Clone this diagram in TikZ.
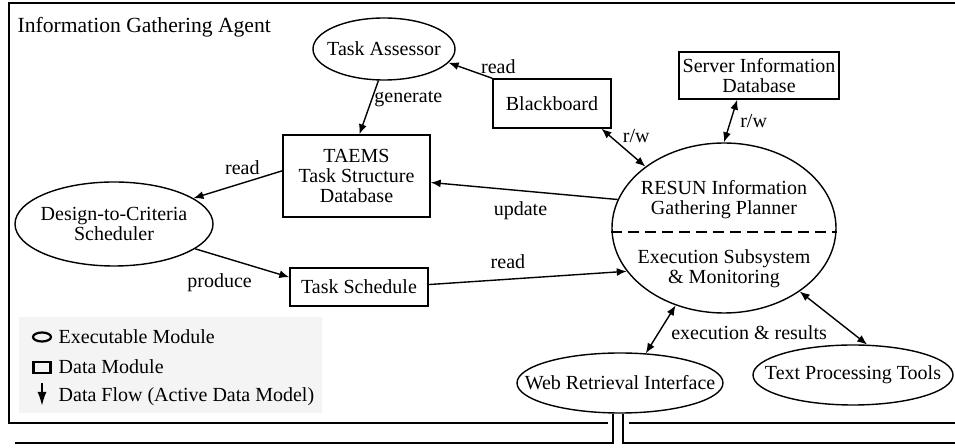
\documentclass[tikz,border=0pt]{standalone}
\usepackage{fontspec}
\setmainfont{Liberation Serif}
\usetikzlibrary{arrows.meta,shapes.geometric,positioning}
\definecolor{legendgray}{RGB}{244,244,244}

\begin{document}
\begin{tikzpicture}[x=0.5pt,y=-0.5pt,>={Latex[length=5pt,width=4pt]},
    line width=0.7pt,font=\fontsize{10pt}{10pt}\selectfont,
    execmod/.style={ellipse,draw,inner sep=-20pt,align=center},
    datamod/.style={rectangle,draw,inner sep=0pt,align=center},
    lbl/.style={inner sep=1pt}]
  \useasboundingbox (0,0) rectangle (955,448);
  % agent frame, open at the bottom for the web link
  \draw[line width=0.8pt] (608,423) -- (9,423) -- (9,3) -- (965,3) -- (965,423) -- (629,423);
  \node[anchor=base west,inner sep=0pt,font=\fontsize{10.8pt}{12pt}\selectfont] (title) at (17,32.5) {Information Gathering Agent};

  \node[execmod,minimum width=71pt,minimum height=31pt] (ass) at (384,49) {Task Assessor};
  \node[datamod,minimum width=73.5pt,minimum height=41pt] (taems) at (356.5,176) {TAEMS\\Task Structure\\Database};
  \node[execmod,minimum width=99pt,minimum height=42pt] (dtc) at (114,224) {Design-to-Criteria\\Scheduler};
  \node[datamod,minimum width=69pt,minimum height=19pt] (sched) at (359,287) {Task Schedule};
  \node[datamod,minimum width=59pt,minimum height=24.5pt] (bb) at (552,103.5) {Blackboard};
  \node[datamod,minimum width=80pt,minimum height=23.5pt] (sidb) at (759,75.5) {Server Information\\Database};
  \node[execmod,minimum width=112pt,minimum height=85pt] (resun) at (724,228) {};
  \node[align=center] (plan) at (724,200) {RESUN Information\\Gathering Planner};
  \node[align=center] (exsub) at (724,269) {Execution Subsystem\\\& Monitoring};
  \draw[dash pattern=on 5.5pt off 3pt] (resun.182.5) -- (resun.-2.5);
  \node[execmod,minimum width=103pt,minimum height=30pt] (web) at (620,383) {Web Retrieval Interface};
  \node[execmod,minimum width=100pt,minimum height=30pt] (tpt) at (853,375) {Text Processing Tools};

  \path[->] (bb.north west) edge node[lbl,pos=0,above=1pt,xshift=3pt] {read} (ass.-12)
	  (ass.-100) edge node[lbl,pos=0.35,right] {generate} (taems.86)
	  (taems.176) edge node[lbl,pos=0.45,above=3pt] {read} (dtc.18)
	  (resun.165) edge node[lbl,pos=0.52,below=4pt] {update} (taems.-5)
	  (dtc.-17) edge node[lbl,pos=0.26,below=7.5pt] {produce} (sched.172)
	  (sched.2) edge node[lbl,pos=0.4,above=4pt] {read} (resun.-156)
	  (bb.-27) edge[<->] node[lbl,pos=0.2,right=5pt] {r/w} (resun.142)
	  (sidb.-132) edge[<->] node[lbl,pos=0.5,right=3.5pt] {r/w} (resun.north)
	  (resun.-122) edge[<->] node[lbl,pos=0.57,right=5pt] {execution \& results} (web.49)
	  (resun.-40) edge[<->] (tpt.65);

  % link from the web interface out of the agent
  \coordinate (pipeL) at (15,443);
  \coordinate (pipeR) at (965,443);
  \draw ([xshift=-3.5pt]web.south) |- (pipeL);
  \draw ([xshift=1.5pt]web.south) |- (pipeR);

  % legend
  \fill[legendgray] (19,317) rectangle (322,413);
  \node[ellipse,draw,line width=1.1pt,minimum width=9pt,minimum height=4.5pt,inner sep=0pt] (lgexec) at (42,337) {};
  \node[rectangle,draw,line width=1.1pt,minimum width=8.5pt,minimum height=5.5pt,inner sep=0pt] (lgdata) at (42,367.5) {};
  \coordinate (lgtop) at (42,383);
  \coordinate (lgbot) at (42,406);
  \draw[-{Latex[length=7pt,width=4.5pt]},line width=1pt] (lgtop) -- (lgbot);
  \node[anchor=west,inner sep=0pt] (lgexectext) at (58,337) {Executable Module};
  \node[anchor=west,inner sep=0pt] (lgdatatext) at (58,367) {Data Module};
  \node[anchor=west,inner sep=0pt] (lgflowtext) at (58,397) {Data Flow (Active Data Model)};
\end{tikzpicture}
\end{document}
